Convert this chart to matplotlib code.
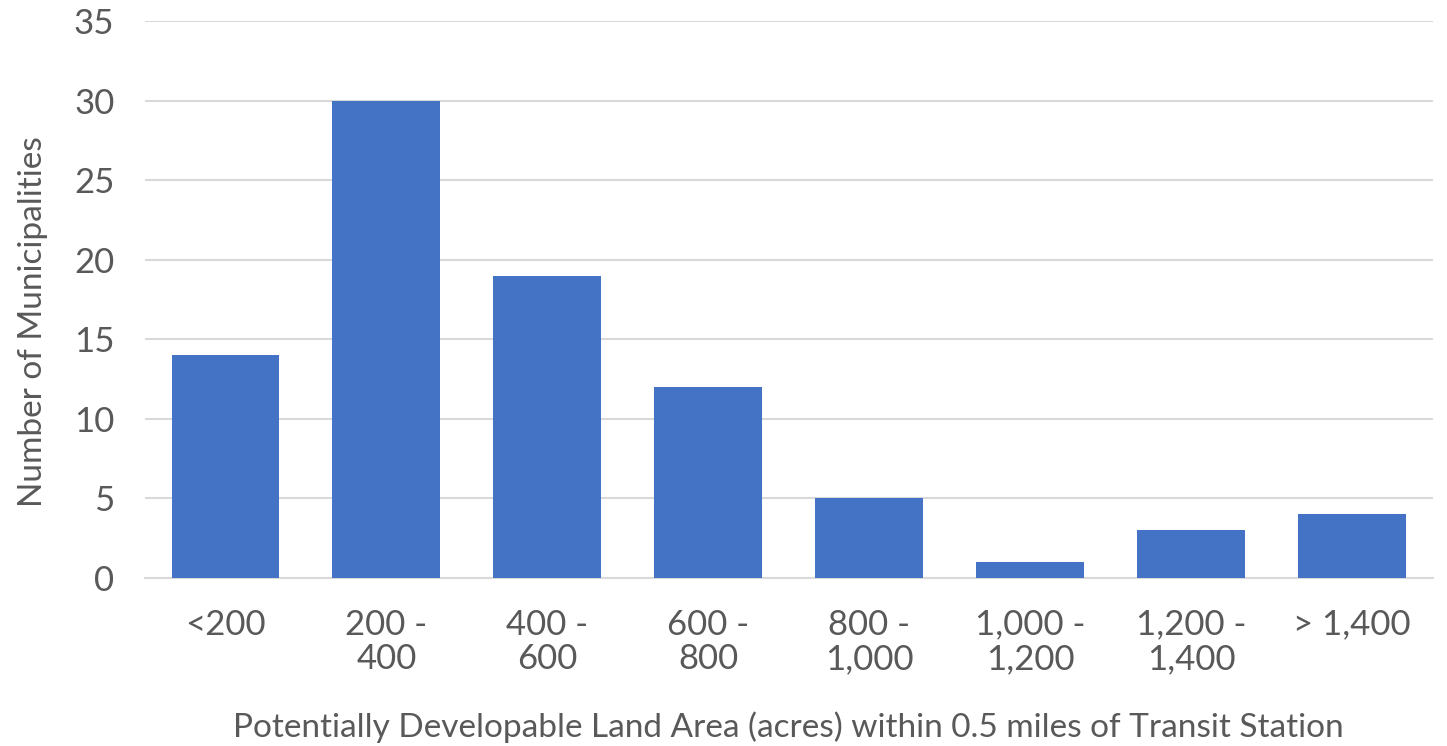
import matplotlib.pyplot as plt
import numpy as np

# Municipalities by developable land area near transit stations
categories = ["<200", "200 -\n400", "400 -\n600", "600 -\n800", "800 -\n1,000",
              "1,000 -\n1,200", "1,200 -\n1,400", "> 1,400"]
counts = [14, 30, 19, 12, 5, 1, 3, 4]
yticks = [0, 5, 10, 15, 20, 25, 30, 35]

bar_color = "#4472C4"
text_color = "#595959"
grid_color = "#D9D9D9"

plt.rcParams['font.family'] = ['Lato', 'DejaVu Sans']

fig = plt.figure(figsize=(14.47, 7.46), dpi=100)
ax = fig.add_axes([0.1002, 0.2252, 0.8898, 0.7466])

x = np.arange(len(categories))
ax.bar(x, counts, width=0.67, color=bar_color, zorder=3)

ax.set_xlim(-0.5, len(categories) - 0.5)
ax.set_ylim(0, 35)
ax.set_yticks(yticks)
ax.set_xticks(x)
ax.set_xticklabels(categories, linespacing=1.1)

ax.grid(axis='y', color=grid_color, linewidth=1.5, zorder=0)
for side in ['top', 'right', 'left']:
    ax.spines[side].set_visible(False)
ax.spines['bottom'].set_color(grid_color)
ax.spines['bottom'].set_linewidth(1.5)

ax.tick_params(axis='both', length=0, labelsize=25, colors=text_color)
ax.tick_params(axis='y', pad=22)
ax.tick_params(axis='x', pad=22)
for lbl in ax.get_xticklabels():
    lbl.set_verticalalignment('top')

ax.set_ylabel("Number of Municipalities", fontsize=24, color=text_color)
ax.yaxis.set_label_coords(-0.075, 0.46)
ax.set_xlabel("Potentially Developable Land Area (acres) within 0.5 miles of Transit Station",
              fontsize=24, color=text_color, labelpad=26)

fig.savefig("out.png", dpi=100)
